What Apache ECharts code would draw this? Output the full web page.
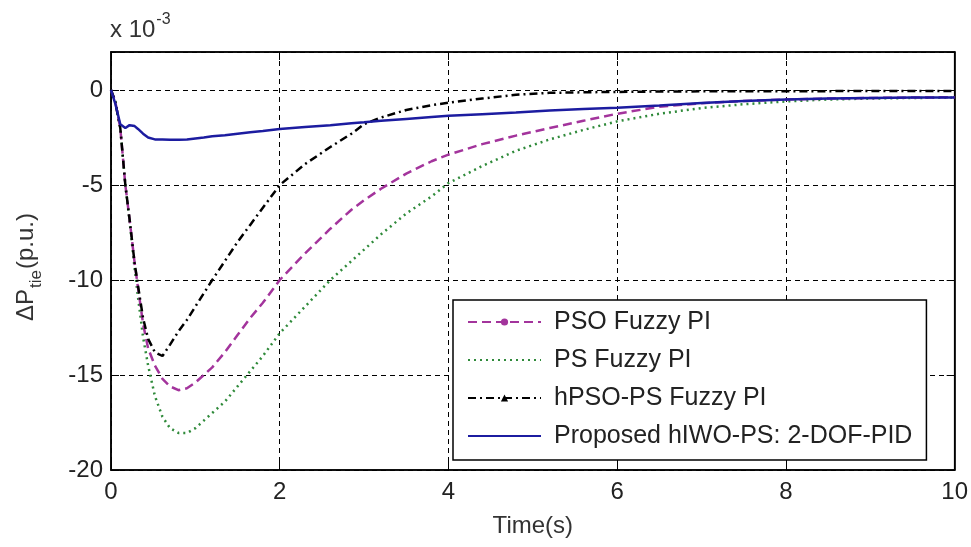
<!DOCTYPE html>
<html>
<head>
<meta charset="utf-8">
<title>Tie-line power deviation</title>
<script src="https://cdn.jsdelivr.net/npm/echarts@6/dist/echarts.min.js"></script>
<style>
  html, body { margin: 0; padding: 0; background: #fff; }
  #chart { width: 971px; height: 547px; }
</style>
</head>
<body>
<div id="chart"></div>
<script>
// time samples (s)
const timeS = [0, 0.05, 0.11, 0.17, 0.22, 0.28, 0.32, 0.38, 0.44, 0.52, 0.61, 0.7, 0.8, 0.9, 1.0, 1.1, 1.2, 1.35, 1.5, 1.65, 1.8, 2.0, 2.3, 2.6, 2.85, 3.0, 3.2, 3.5, 3.8, 4.0, 4.4, 4.8, 5.2, 5.6, 6.0, 6.5, 7.0, 7.5, 8.0, 8.5, 9.0, 9.5, 10];

// deviation values, x 10^-3 p.u.
const psoFuzzy = [0, -0.6, -2.0, -5.0, -6.8, -9.1, -10.4, -12.3, -13.6, -14.5, -15.2, -15.6, -15.8, -15.7, -15.4, -15.0, -14.6, -13.8, -12.9, -12.0, -11.2, -10.0, -8.6, -7.3, -6.3, -5.8, -5.2, -4.4, -3.75, -3.4, -2.85, -2.4, -2.0, -1.62, -1.25, -0.88, -0.7, -0.58, -0.5, -0.45, -0.42, -0.4, -0.38];
const psFuzzy = [0, -0.6, -2.0, -5.0, -6.9, -9.4, -10.9, -13.0, -14.5, -16.1, -17.2, -17.8, -18.05, -18.05, -17.8, -17.4, -17.0, -16.4, -15.6, -14.8, -14.0, -12.8, -11.4, -10.0, -9.0, -8.4, -7.6, -6.5, -5.6, -4.9, -4.0, -3.2, -2.6, -2.1, -1.65, -1.25, -0.95, -0.75, -0.6, -0.5, -0.45, -0.42, -0.4];
const hpsoPsFuzzy = [0, -0.6, -2.0, -5.0, -6.8, -9.1, -10.3, -12.0, -13.1, -13.8, -14.0, -13.4, -12.7, -12.1, -11.4, -10.7, -10.0, -9.0, -8.0, -7.1, -6.2, -5.0, -3.9, -3.0, -2.3, -1.8, -1.45, -1.05, -0.8, -0.67, -0.45, -0.25, -0.15, -0.12, -0.1, -0.08, -0.07, -0.06, -0.06, -0.06, -0.05, -0.05, -0.05];
const proposed = [0, -0.7, -1.8, -2.0, -1.85, -1.9, -2.05, -2.3, -2.5, -2.6, -2.6, -2.62, -2.62, -2.6, -2.55, -2.5, -2.44, -2.38, -2.3, -2.22, -2.16, -2.05, -1.95, -1.85, -1.75, -1.7, -1.62, -1.52, -1.42, -1.36, -1.27, -1.18, -1.08, -1.0, -0.94, -0.82, -0.68, -0.58, -0.5, -0.45, -0.42, -0.4, -0.4];

const seriesNames = ['PSO Fuzzy PI', 'PS Fuzzy PI', 'hPSO-PS Fuzzy PI', 'Proposed hIWO-PS: 2-DOF-PID'];
const xTicks = { min: 0, max: 10, step: 2 };
const yTicks = { min: -20, max: 2, step: 5 };

const FONT = '"Liberation Sans", Arial, sans-serif';

function pairs(vals) {
  return timeS.map((t, i) => [t, vals[i]]);
}

const chart = echarts.init(document.getElementById('chart'));

const tickStyle = { inside: true, length: 8, lineStyle: { color: '#000', width: 1 } };
const gridLine = { show: true, lineStyle: { color: '#000', width: 1, type: [5, 4] } };
const frameLine = { show: true, onZero: false, lineStyle: { color: '#000', width: 1.5 } };
// no marker on these lines, so the legend marker is made invisible too
const noMarker = { color: 'rgba(0,0,0,0)', borderWidth: 0 };

chart.setOption({
  backgroundColor: '#fff',
  animation: false,
  grid: {
    left: 111, right: 16, top: 52, bottom: 77,
    show: true, borderColor: '#000', borderWidth: 1.5, backgroundColor: '#fff'
  },
  xAxis: [{
    type: 'value', min: xTicks.min, max: xTicks.max, interval: xTicks.step,
    name: 'Time(s)', nameLocation: 'middle', nameGap: 44,
    nameTextStyle: { fontFamily: FONT, fontSize: 24, color: '#333' },
    axisLine: frameLine,
    axisTick: tickStyle,
    axisLabel: { fontFamily: FONT, fontSize: 24, color: '#222', margin: 10 },
    splitLine: gridLine
  }, {
    type: 'value', position: 'top', min: xTicks.min, max: xTicks.max, interval: xTicks.step,
    axisLine: frameLine,
    axisTick: tickStyle, axisLabel: { show: false }, splitLine: { show: false }
  }],
  yAxis: [{
    type: 'value', min: yTicks.min, max: yTicks.max, interval: yTicks.step,
    axisLine: frameLine,
    axisTick: tickStyle,
    axisLabel: {
      fontFamily: FONT, fontSize: 24, color: '#222', margin: 8,
      showMaxLabel: false,
      formatter: v => (v === yTicks.max ? '' : String(v))
    },
    splitLine: gridLine
  }, {
    type: 'value', position: 'right', min: yTicks.min, max: yTicks.max, interval: yTicks.step,
    axisLine: frameLine,
    axisTick: tickStyle, axisLabel: { show: false }, splitLine: { show: false }
  }],
  legend: {
    orient: 'vertical',
    left: 453, top: 300,
    padding: [7, 14, 9, 14],
    itemGap: 8,
    itemWidth: 73, itemHeight: 9,
    backgroundColor: '#fff',
    borderColor: '#000', borderWidth: 1.5, borderRadius: 0,
    textStyle: { fontFamily: FONT, fontSize: 25, color: '#222', lineHeight: 30, padding: [0, 0, 0, 8] },
    data: seriesNames
  },
  graphic: [{
    type: 'text', left: 110, top: 12,
    style: {
      text: '{a|x 10}{s|-3}',
      rich: {
        a: { fontFamily: FONT, fontSize: 24, fill: '#333', padding: [10, 0, 0, 0] },
        s: { fontFamily: FONT, fontSize: 16, fill: '#333', padding: [0, 0, 10, 1] }
      }
    }
  }, {
    type: 'text', x: 30, y: 267, rotation: Math.PI / 2,
    style: {
      text: '{a|\u0394P}{s|tie}{a|(p.u.)}',
      align: 'center', verticalAlign: 'middle',
      rich: {
        a: { fontFamily: FONT, fontSize: 24, fill: '#333', padding: [0, 0, 8, 0] },
        s: { fontFamily: FONT, fontSize: 17, fill: '#333', padding: [12, 1, 0, 1] }
      }
    }
  }],
  series: [{
    name: seriesNames[0], type: 'line', data: pairs(psoFuzzy),
    symbol: 'circle', symbolSize: 6, showSymbol: false,
    lineStyle: { color: '#a3349c', width: 2.5, type: [9, 5] },
    itemStyle: { color: '#a3349c' }, z: 3
  }, {
    name: seriesNames[1], type: 'line', data: pairs(psFuzzy),
    symbol: 'none',
    lineStyle: { color: '#2f8a3a', width: 2.5, type: [2, 4] },
    itemStyle: noMarker, z: 2
  }, {
    name: seriesNames[2], type: 'line', data: pairs(hpsoPsFuzzy),
    symbol: 'triangle', symbolSize: 7, showSymbol: false,
    lineStyle: { color: '#000', width: 2.5, type: [8, 4, 2, 4] },
    itemStyle: { color: '#000' }, z: 4
  }, {
    name: seriesNames[3], type: 'line', data: pairs(proposed),
    symbol: 'none',
    lineStyle: { color: '#1c1ca0', width: 2.5 },
    itemStyle: noMarker, z: 5
  }]
});
</script>
</body>
</html>
